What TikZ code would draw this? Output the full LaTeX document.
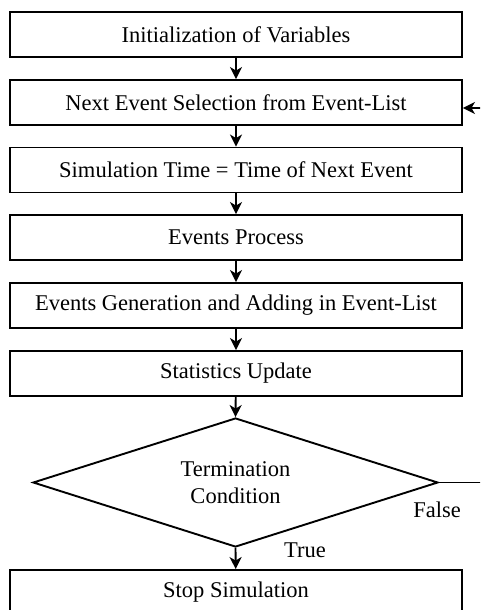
\documentclass[tikz,border=0pt]{standalone}
\usepackage{fontspec}
\setmainfont{Liberation Serif}
\usetikzlibrary{arrows.meta,shapes.geometric}

\begin{document}
\begin{tikzpicture}[x=1pt,y=-1pt,
  stepbox/.style={draw,line width=1.9pt,minimum width=452pt,minimum height=45pt,
    inner sep=0pt,font=\fontsize{22.5}{25}\selectfont},
  decision/.style={draw,diamond,line width=1.9pt,minimum width=405pt,minimum height=129pt,
    inner sep=0pt},
  flow/.style={line width=1.9pt,-{Stealth[length=12pt,width=12pt,inset=3.5pt]}},
  lbl/.style={font=\fontsize{22.5}{27}\selectfont,inner sep=0pt,align=center}]
  \useasboundingbox (0,0) rectangle (480,610);
  \clip (0,0) rectangle (480,610);

  % process steps
  \node[stepbox] (init)  at (236,34.5)  {Initialization of Variables};
  \node[stepbox] (next)  at (236,102.5) {Next Event Selection from Event-List};
  \node[stepbox] (time)  at (236,170)   {Simulation Time = Time of Next Event};
  \node[stepbox] (proc)  at (236,237.5) {Events Process};
  \node[stepbox] (gen)   at (236,305.5) {Events Generation and Adding in Event-List};
  \node[stepbox] (stats) at (236,373.5) {Statistics Update};
  \node[decision] (term) at (235.5,482.5) {};
  \node[lbl] (termtext) at (term.center) {Termination\\Condition};
  \node[stepbox] (stop)  at (236,592.5) {Stop Simulation};

  % main flow
  \draw[flow] (init) -- (next);
  \draw[flow] (next) -- (time);
  \draw[flow] (time) -- (proc);
  \draw[flow] (proc) -- (gen);
  \draw[flow] (gen) -- (stats);
  \draw[flow] (stats) -- (term.north);
  \draw[flow] (term.south) -- (stop);

  % loop back when the condition is false
  \coordinate (loopin) at ([yshift=-5.5pt]next.east);
  \coordinate (loopx) at (520,0);
  \draw[flow] (term.east) -- (term.east -| loopx) -- (loopin -| loopx) -- (loopin);

  % branch labels
  \node[lbl] (false) at (437,510) {False};
  \node[lbl] (true)  at (305,550) {True};
\end{tikzpicture}
\end{document}
